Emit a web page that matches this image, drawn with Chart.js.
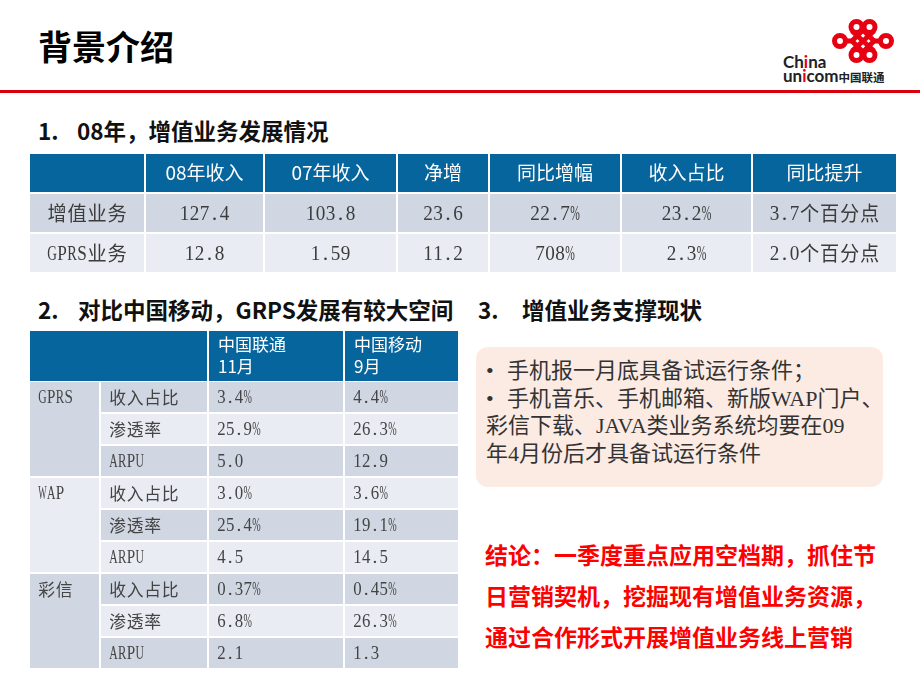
<!DOCTYPE html>
<html lang="zh-CN">
<head>
<meta charset="UTF-8">
<title>背景介绍</title>
<script src="https://cdn.jsdelivr.net/npm/chart.js"></script>
<style>
  body { margin: 0; background: #fff; }
  #slide { position: relative; width: 920px; height: 690px; overflow: hidden;
           font-family: "Noto Sans CJK SC", sans-serif; color: #111; }
  .abs { position: absolute; white-space: nowrap; }
  canvas { position: absolute; }
  .title { left: 38px; top: 25px; font-size: 34px; line-height: 42px; font-weight: bold; color: #000; }
  .redline { left: 0; top: 90px; width: 920px; height: 3px; background: #d9000d; }
  .head { font-size: 22.5px; line-height: 30px; font-weight: bold; color: #111; }
  .box { left: 476px; top: 347px; width: 397px; height: 130px; padding: 10px 0 0 10px;
         background: #fcebe3; border-radius: 12px;
         font-family: "Liberation Serif", "Noto Sans CJK SC", serif; font-size: 22px;
         line-height: 27.5px; color: #333; white-space: nowrap; }
  .box .dot { display: inline-block; width: 21px; }
  .concl { left: 485px; top: 534px; font-size: 23px; line-height: 41px; font-weight: bold; color: #ff0000; }
  .logo1 { left: 783px; top: 52px; font-family: Lato, sans-serif; font-weight: bold; font-size: 17px; line-height: 20px; color: #222; }
  .logo2 { left: 783px; top: 66px; font-family: Lato, sans-serif; font-weight: bold; font-size: 17px; line-height: 20px; color: #222; }
  .logo2 small { font-family: "Noto Sans CJK SC"; font-size: 11.5px; font-weight: bold; }
  .red { color: #e60012; }
</style>
</head>
<body>
<div id="slide">
  <div class="abs title">背景介绍</div>

  <!-- 联通标志 -->
  <svg class="abs" style="left:830px;top:16px" width="66" height="48" viewBox="830 16 66 48">
    <g fill="none" stroke="#e60012" stroke-width="5" stroke-linejoin="round">
      <circle cx="856.5" cy="27" r="5.5"/>
      <circle cx="869.5" cy="27" r="5.5"/>
      <circle cx="856.5" cy="55" r="5.5"/>
      <circle cx="869.5" cy="55" r="5.5"/>
      <circle cx="840" cy="41" r="5.5"/>
      <circle cx="886" cy="41" r="5.5"/>
      <path d="M863,30 L874,41 L863,52 L852,41 Z"/>
      <path d="M852,31 L874,51 M874,31 L852,51"/>
      <path d="M845,41 L852,41 M874,41 L881,41"/>
    </g>
  </svg>
  <div class="abs logo1">Ch<span class="red">i</span>na</div>
  <div class="abs logo2">un<span class="red">i</span>com<small>中国联通</small></div>

  <div class="abs redline"></div>

  <div class="abs head" style="left:38px;top:115px">1.</div>
  <div class="abs head" style="left:77px;top:115px">08年，增值业务发展情况</div>
  <canvas id="t1" width="868" height="120" style="left:29px;top:153px"></canvas>

  <div class="abs head" style="left:38px;top:294px">2.</div>
  <div class="abs head" style="left:78px;top:294px">对比中国移动，GRPS发展有较大空间</div>
  <div class="abs head" style="left:478px;top:294px">3.</div>
  <div class="abs head" style="left:522px;top:294px">增值业务支撑现状</div>

  <canvas id="t2h" width="430" height="52" style="left:29px;top:330px"></canvas>
  <canvas id="t2b" width="430" height="288" style="left:29px;top:381px"></canvas>

  <div class="abs box"><span class="dot">•</span>手机报一月底具备试运行条件；<br><span class="dot">•</span>手机音乐、手机邮箱、新版WAP门户、<br>彩信下载、JAVA类业务系统均要在09<br>年4月份后才具备试运行条件</div>

  <div class="abs concl">结论：一季度重点应用空档期，抓住节<br>日营销契机，挖掘现有增值业务资源，<br>通过合作形式开展增值业务线上营销</div>
</div>

<script>
// ===== 表1：08年增值业务发展情况 =====
const t1Header = ['', '08年收入', '07年收入', '净增', '同比增幅', '收入占比', '同比提升'];
const t1Business = ['增值业务', 'GPRS业务'];
const t1Rev08 = ['127.4', '12.8'];
const t1Rev07 = ['103.8', '1.59'];
const t1Net = ['23.6', '11.2'];
const t1Yoy = ['22.7%', '708%'];
const t1Share = ['23.2%', '2.3%'];
const t1ShareUp = ['3.7个百分点', '2.0个百分点'];

// ===== 表2：对比中国移动 =====
const t2Header = ['中国联通\n11月', '中国移动\n9月'];
const t2Groups = ['GPRS', 'WAP', '彩信'];
const t2Metrics = ['收入占比', '渗透率', 'ARPU'];
const t2Unicom = ['3.4%', '25.9%', '5.0', '3.0%', '25.4%', '4.5', '0.37%', '6.8%', '2.1'];
const t2Mobile = ['4.4%', '26.3%', '12.9', '3.6%', '19.1%', '14.5', '0.45%', '26.3%', '1.3'];

// 颜色与列边界（像素）
const BLUE = '#07659d', DARK = '#d0d7e2', LIGHT = '#e9ecf2';
const t1Edges = [0, 116, 235, 368, 460, 592, 723, 868];
const t2HeadEdges = [0, 179, 315, 430];
const t2Edges = [0, 71, 179, 315, 430];

// 宋体式等宽排字：汉字 1em，西文 0.5em
function drawMono(ctx, text, st, left, right, y) {
  const chars = Array.from(text);
  const adv = chars.map(c => (c.charCodeAt(0) >= 0x2e80 ? st.size : st.size * 0.5));
  const total = adv.reduce((a, b) => a + b, 0);
  let x = st.align === 'center' ? (left + right) / 2 - total / 2 : left + st.pad;
  ctx.textAlign = 'center';
  ctx.textBaseline = 'middle';
  ctx.fillStyle = st.color;
  chars.forEach((c, k) => {
    const cjk = c.charCodeAt(0) >= 0x2e80;
    ctx.font = cjk ? st.size + 'px "Noto Sans CJK SC"' : (st.size * 1.1) + 'px "Liberation Serif"';
    const w = ctx.measureText(c).width;
    const sx = Math.min(1, (adv[k] * 0.96) / w);
    ctx.save();
    ctx.translate(x + adv[k] / 2, y + (cjk ? 0 : 1));
    ctx.scale(sx, 1);
    ctx.fillText(c, 0, 0);
    ctx.restore();
    x += adv[k];
  });
}

function drawPlain(ctx, text, st, left, right, y) {
  ctx.font = st.size + 'px "Noto Sans CJK SC"';
  ctx.fillStyle = st.color;
  ctx.textBaseline = 'middle';
  if (st.align === 'center') {
    ctx.textAlign = 'center';
    ctx.fillText(text, (left + right) / 2, y);
  } else {
    ctx.textAlign = 'left';
    ctx.fillText(text, left + st.pad, y);
  }
}

// 单元格文字插件
const cellText = {
  id: 'cellText',
  afterDatasetsDraw(chart) {
    const ctx = chart.ctx;
    chart.data.datasets.forEach((ds, j) => {
      const meta = chart.getDatasetMeta(j);
      meta.data.forEach((bar, i) => {
        const txt = ds.texts[i];
        if (!txt) return;
        const st = ds.textStyle(i);
        const p = bar.getProps(['x', 'base', 'y'], true);
        const left = Math.min(p.x, p.base), right = Math.max(p.x, p.base);
        const lines = txt.split('\n');
        lines.forEach((ln, k) => {
          const y = p.y + (k - (lines.length - 1) / 2) * (st.lineHeight || 0);
          (st.mono ? drawMono : drawPlain)(ctx, ln, st, left, right, y);
        });
      });
    });
  }
};

function makeTable(id, edges, rowKeys, columns) {
  const datasets = columns.map((col, j) => ({
    label: 'col' + j,
    data: rowKeys.map(() => [edges[j], edges[j + 1]]),
    texts: col.texts,
    textStyle: col.style,
    backgroundColor: c => col.fill(c.dataIndex),
    borderColor: '#ffffff',
    borderWidth: c => (col.border ? col.border(c.dataIndex) : 1),
    borderSkipped: false,
    inflateAmount: 0,
    grouped: false,
    barPercentage: 1,
    categoryPercentage: 1
  }));
  return new Chart(document.getElementById(id), {
    type: 'bar',
    data: { labels: rowKeys, datasets: datasets },
    options: {
      indexAxis: 'y',
      responsive: false,
      animation: false,
      events: [],
      layout: { padding: 0 },
      plugins: { legend: { display: false }, tooltip: { enabled: false } },
      scales: {
        x: { type: 'linear', min: edges[0], max: edges[edges.length - 1], display: false },
        y: { type: 'category', display: false }
      }
    },
    plugins: [cellText]
  });
}

// 表1
const t1Cols = [t1Business, t1Rev08, t1Rev07, t1Net, t1Yoy, t1Share, t1ShareUp];
const t1HeadStyle = { size: 19, color: '#ffffff', align: 'center' };
const t1BodyStyle = { size: 20, color: '#3c3c3c', align: 'center', mono: true };
makeTable('t1', t1Edges, ['head'].concat(t1Business),
  t1Cols.map((vals, j) => ({
    texts: [t1Header[j]].concat(vals),
    fill: i => (i === 0 ? BLUE : i === 1 ? DARK : LIGHT),
    style: i => (i === 0 ? t1HeadStyle : t1BodyStyle)
  })));

// 表2 表头
const t2HeadStyle = { size: 17, color: '#ffffff', align: 'left', pad: 10, lineHeight: 22 };
makeTable('t2h', t2HeadEdges, ['head'],
  [''].concat(t2Header).map(h => ({
    texts: [h],
    fill: () => BLUE,
    style: () => t2HeadStyle
  })));

// 表2 表体（第一列按业务合并单元格）
const t2Rows = t2Groups.flatMap(g => t2Metrics.map(m => g + '-' + m));
const t2BodyStyle = { size: 17.5, color: '#444444', align: 'left', pad: 9, mono: true };
const rowFill = i => (i % 2 === 0 ? DARK : LIGHT);
makeTable('t2b', t2Edges, t2Rows, [
  {
    texts: t2Rows.map((r, i) => (i % 3 === 0 ? t2Groups[i / 3] : '')),
    fill: i => (Math.floor(i / 3) % 2 === 0 ? DARK : LIGHT),
    border: i => ({ left: 1, right: 1, top: i % 3 === 0 ? 1 : 0, bottom: i % 3 === 2 ? 1 : 0 }),
    style: () => t2BodyStyle
  },
  { texts: t2Groups.flatMap(() => t2Metrics), fill: rowFill, style: () => t2BodyStyle },
  { texts: t2Unicom, fill: rowFill, style: () => t2BodyStyle },
  { texts: t2Mobile, fill: rowFill, style: () => t2BodyStyle }
]);
</script>
</body>
</html>
